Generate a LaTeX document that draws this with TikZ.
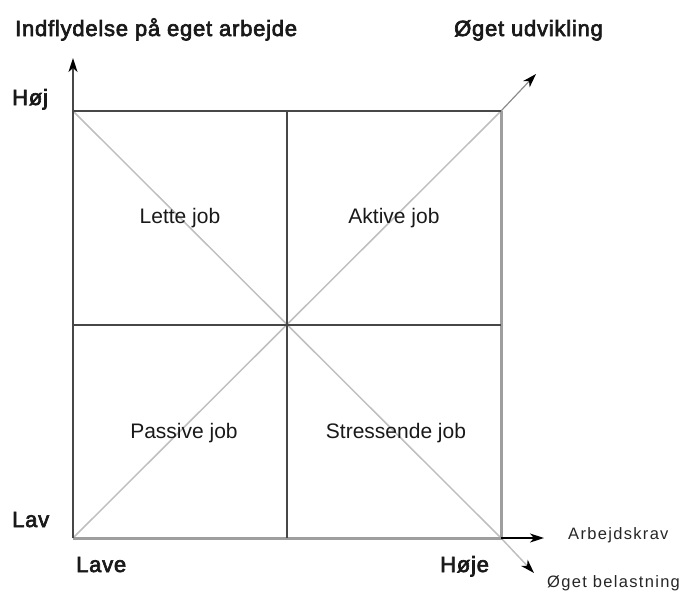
\documentclass[tikz,border=0pt]{standalone}
\usepackage{fontspec}
\setmainfont{Liberation Sans}
\newfontfamily\labelfont{Liberation Sans}
\newfontfamily\headfont{Liberation Sans}[FakeBold=3, LetterSpace=3.5]
\newfontfamily\smallfont{Liberation Sans}[LetterSpace=8]
\usetikzlibrary{arrows.meta}

\tikzset{
  darkline/.style={draw=black!72, line width=2pt},
  paleedge/.style={draw=black!38, line width=3pt},
  diagline/.style={draw=black!25, line width=1.5pt},
  tipline/.style={draw=black!45, line width=1.2pt},
  headtip/.style={-{Stealth[length=14pt,width=9pt,inset=4pt,color=black]}},
  headtext/.style={anchor=base west, inner sep=0pt, text=black!90,
    font=\headfont\fontsize{22}{26}\selectfont},
  smalltext/.style={anchor=base west, inner sep=0pt, text=black!85,
    font=\smallfont\fontsize{16.5}{20}\selectfont},
  quadtext/.style={inner sep=0pt, text=black!90,
    font=\labelfont\fontsize{21}{25}\selectfont},
}

\begin{document}
\begin{tikzpicture}[x=1pt, y=-1pt]
  \useasboundingbox (0,0) rectangle (687,590);

  % corners, centre and axis ends
  \coordinate (sw) at (73,538);
  \coordinate (nw) at (73,111);
  \coordinate (ne) at (501,111);
  \coordinate (se) at (501,538);
  \coordinate (n)  at (287,111);
  \coordinate (s)  at (287,538);
  \coordinate (w)  at (73,325);
  \coordinate (e)  at (501,325);
  \coordinate (ytip)  at (73,58);
  \coordinate (xtip)  at (544,538);
  \coordinate (netip) at (536,74);
  \coordinate (setip) at (534,573);

  % diagonals
  \draw[diagline] (sw) -- (ne);
  \draw[diagline] (nw) -- (se);
  \draw[tipline, headtip] (ne) -- (netip);
  \draw[diagline, headtip] (se) -- (setip);

  % outer frame and quadrant dividers
  \draw[paleedge] (sw) -- (se) -- (ne);
  \draw[darkline] (nw) -- (ne);
  \draw[darkline] (n) -- (s);
  \draw[darkline] (w) -- (e);
  \draw[darkline, headtip] (sw) -- (ytip);
  \draw[draw=black, line width=1.5pt, headtip] (se) -- (xtip);

  % quadrant labels
  \node[quadtext] (lette)  at (180,218) {Lette job};
  \node[quadtext] (aktive) at (394,218) {Aktive job};
  \node[quadtext] (passiv) at (184,433) {Passive job};
  \node[quadtext] (stress) at (396,433) {Stressende job};

  % axis titles and scale labels
  \node[headtext] (indfl) at (15,36)  {Indflydelse på eget arbejde};
  \node[headtext] (udv)   at (454,36) {Øget udvikling};
  \node[headtext] (hoej)  at (12,105) {Høj};
  \node[headtext] (lav)   at (12,527) {Lav};
  \node[headtext] (lave)  at (76,572) {Lave};
  \node[headtext] (hoeje) at (440,572) {Høje};
  \node[smalltext] (krav) at (568,539) {Arbejdskrav};
  \node[smalltext] (bel)  at (547,587) {Øget belastning};
\end{tikzpicture}
\end{document}
